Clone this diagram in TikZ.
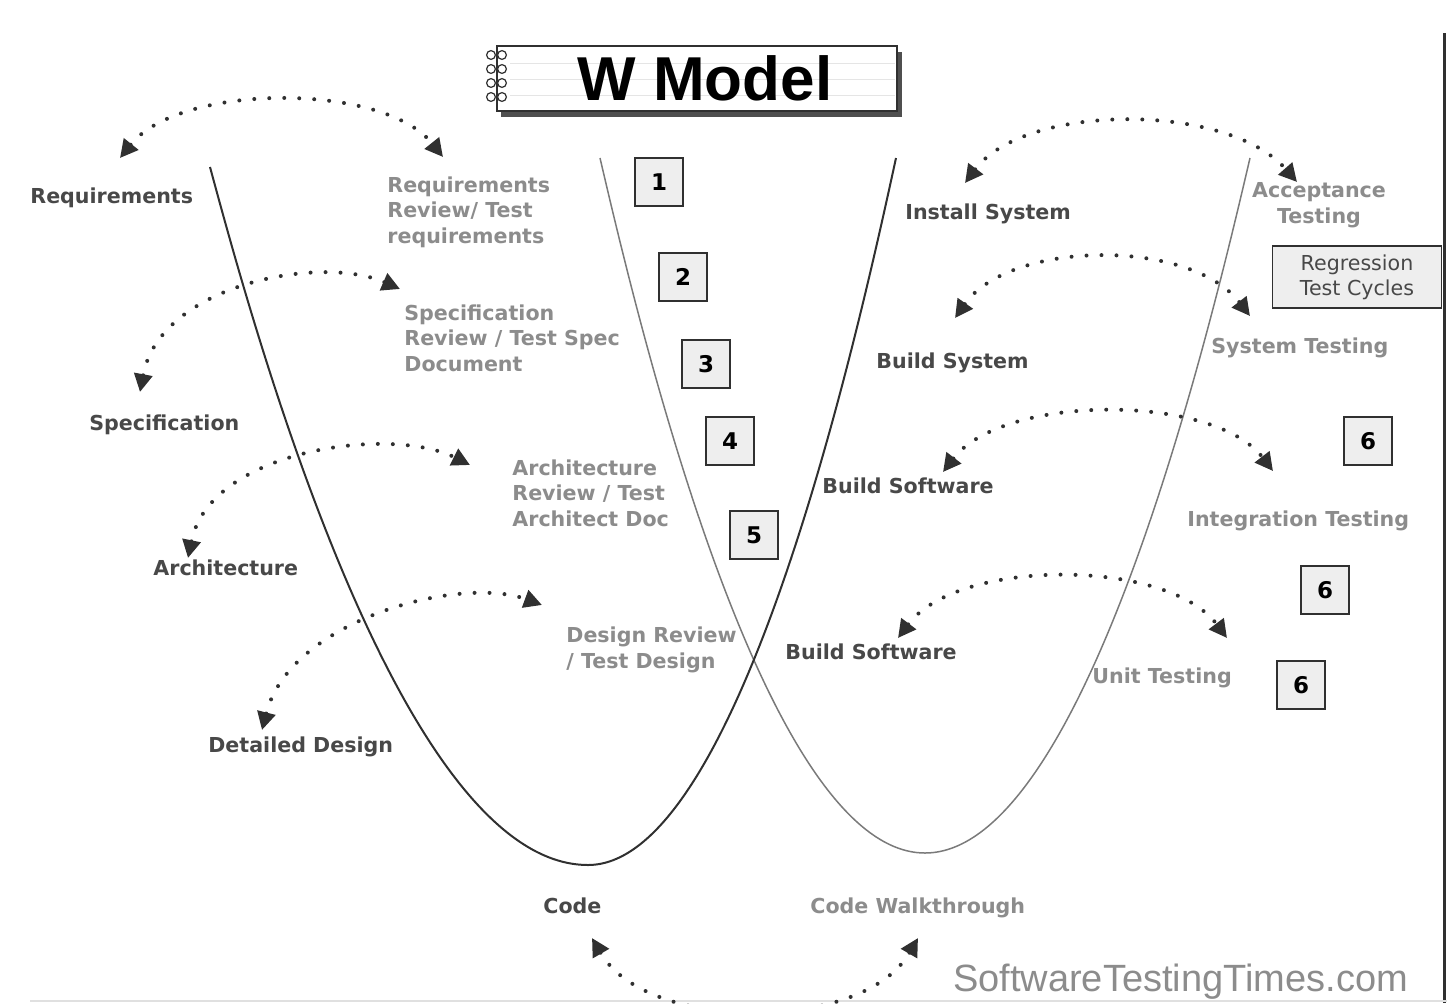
\documentclass[tikz,border=0pt]{standalone}
\usepackage{fontspec}
\setmainfont{DejaVu Sans}
\newfontfamily\titlefont{Liberation Sans}
\usepackage{tikz}
\usetikzlibrary{arrows.meta,positioning}
\definecolor{darkc}{HTML}{303030}
\definecolor{labc}{HTML}{484848}
\definecolor{revc}{HTML}{8C8C8C}
\definecolor{curvc}{HTML}{7A7A7A}
\definecolor{boxbg}{HTML}{EEEEEE}
\tikzset{
  dots/.style={{Triangle[length=9pt,width=9pt]}-{Triangle[length=9pt,width=9pt]},line width=2pt,line cap=round,dash pattern=on 0pt off 7.5pt,darkc},
  lab/.style={font=\bfseries\fontsize{10.3}{12.75}\selectfont,text=labc,inner sep=0pt,align=left,anchor=base west},
  rev/.style={lab,text=revc},
  num/.style={draw=darkc,line width=1pt,fill=boxbg,minimum size=24pt,inner sep=0pt,font=\bfseries\fontsize{11.5}{13}\selectfont},
  rbox/.style={draw=darkc,line width=0.75pt,fill=boxbg,minimum width=84.5pt,minimum height=31pt,inner sep=0pt,align=center,text=labc,font=\fontsize{10.3}{12.5}\selectfont}
}

\begin{document}
\begin{tikzpicture}[x=0.5pt,y=-0.5pt]
\useasboundingbox (0,0) rectangle (1447,1003);
\clip (0,0) rectangle (1447,1003);
% frame lines
\draw[darkc,line width=1.5pt] (1444,33) -- (1444,1003);
\draw[black!12,line width=1pt] (30,1001) -- (1447,1001);
% title
\fill[darkc!85] (501,52) rectangle (902,117);
\draw[darkc,line width=0.75pt,fill=white] (497,46) rectangle (897,111);
\foreach \y in {63,79,95}{\draw[black!10] (510,\y) -- (895,\y);}
\foreach \y in {55,69,83,97}{\draw[darkc,line width=0.6pt,fill=white] (491,\y) circle (2.2pt); \draw[darkc,line width=0.6pt,fill=white] (502,\y) circle (2.2pt);}
\node[font=\titlefont\bfseries\fontsize{31}{31}\selectfont,anchor=base] (title) at (705,100) {W Model};
% the two V curves
\draw[curvc,line width=0.75pt] (600,158) parabola bend (925,853) (1250,158);
\draw[darkc,line width=1pt] (210,167) parabola bend (588,865) (896,158);
% left side
\node[lab] (req) at (30,203) {Requirements};
\node[rev] (reqrev) at (387,243) {Requirements\\Review/ Test\\requirements};
\node[rev] (specrev) at (404,371) {Specification\\Review / Test Spec\\Document};
\node[lab] (spec) at (89,430) {Specification};
\node[rev] (archrev) at (512,526) {Architecture\\Review / Test\\Architect Doc};
\node[lab] (arch) at (153,575) {Architecture};
\node[rev] (ddrev) at (566,668) {Design Review\\/ Test Design};
\node[lab] (dd) at (208,752) {Detailed Design};
\node[lab] (code) at (543,913) {Code};
\node[rev] (codewt) at (810,913) {Code Walkthrough};
% right side
\node[lab] (inst) at (905,219) {Install System};
\node[rev,align=center,anchor=base] (acc) at (1319,223) {Acceptance\\Testing};
\node[rbox] (regr) at (1357,277) {Regression\\Test Cycles};
\node[lab] (bsys) at (876,368) {Build System};
\node[rev] (systest) at (1211,353) {System Testing};
\node[lab] (bsw) at (822,493) {Build Software};
\node[rev] (inttest) at (1187,526) {Integration Testing};
\node[lab] (bswu) at (785,659) {Build Software};
\node[rev] (unittest) at (1092,683) {Unit Testing};
% numbered steps
\foreach \i/\t/\x/\y in {1/1/659/182,2/2/683/277,3/3/706/364,4/4/730/441,5/5/754/535,6/6/1368/441,7/6/1325/590,8/6/1301/685}{
 \node[num] (n\i) at (\x,\y) {\t};}
% dotted links
\foreach \k/\xa/\ya/\ax/\ay/\bx/\by/\xb/\yb in {1/120/158/60/-75/-60/-75/443/157,2/140/392/20/-107/-80/-35/400/289,3/188/558/22/-108/-80/-40/470/465,4/262/730/28/-110/-82/-30/542/605,5/965/183/60/-80/-70/-80/1297/182,6/955/318/55/-78/-60/-78/1250/316,7/943/472/60/-78/-60/-78/1273/471,8/898/638/60/-80/-60/-80/1227/638,9/592/938/55/95/-55/95/918/938}{
 \coordinate (l\k) at (\xa,\ya);
 \coordinate (r\k) at (\xb,\yb);
 \draw[dots] (l\k) .. controls +(\ax,\ay) and +(\bx,\by) .. (r\k);}
\node[font=\titlefont\fontsize{19}{19}\selectfont,text=black!45,anchor=base west] (site) at (946,991) {SoftwareTestingTimes.com};
\end{tikzpicture}
\end{document}
